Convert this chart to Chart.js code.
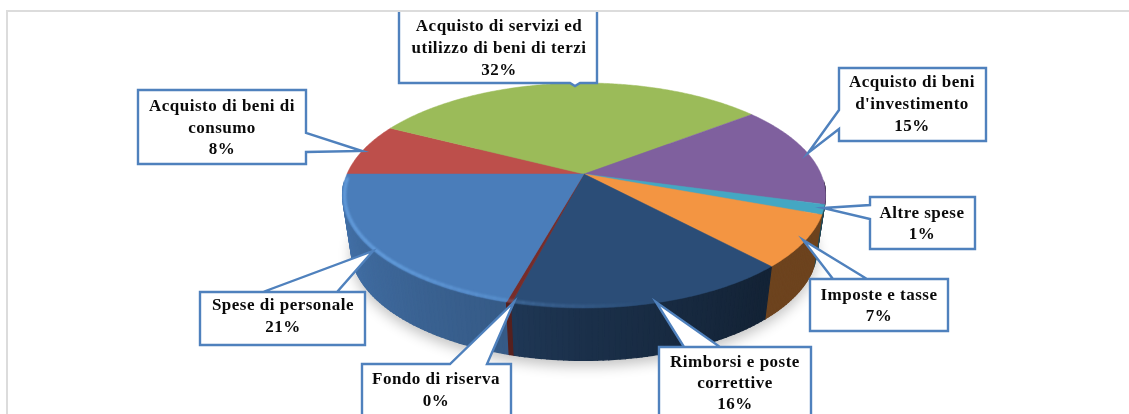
<!DOCTYPE html>
<html>
<head>
<meta charset="utf-8">
<script src="https://cdn.jsdelivr.net/npm/chart.js@4/dist/chart.umd.min.js"></script>
<style>
html, body { margin: 0; padding: 0; background: #fff; overflow: hidden; }
canvas { display: block; }
</style>
</head>
<body>
<canvas id="spesePie" width="1129" height="414"></canvas>
<script>
// categories, clockwise from the left of the pie
var categories = [
    ['Acquisto di beni di', 'consumo'],
    ['Acquisto di servizi ed', 'utilizzo di beni di terzi'],
    ['Acquisto di beni', "d'investimento"],
    ['Altre spese'],
    ['Imposte e tasse'],
    ['Rimborsi e poste', 'correttive'],
    ['Fondo di riserva'],
    ['Spese di personale']
];
var shares = [7.6, 31.9, 14.8, 1.4, 7.4, 15.9, 0.3, 20.7];
var sliceColors = ['#bd4f4b', '#9bbb59', '#7f609e', '#44a7c3', '#f39542', '#2b4d77', '#772c2a', '#4a7dba'];

// box = x, y, w, h of the callout, tail = where it leaves the box and where it points
var callouts = [
    { box: [138, 90, 168, 74], tail: [[306, 133], [362, 151], [306, 152]], textX: 222, textY: [107, 129, 150] },
    { box: [399, 4, 198, 79], tail: [[580, 83], [575, 86], [570, 83]], textX: 499, textY: [27, 49, 71] },
    { box: [839, 68, 147, 73], tail: [[839, 110], [808, 153], [839, 129]], textX: 912, textY: [83, 105, 127] },
    { box: [870, 197, 105, 52], tail: [[870, 205], [823, 208], [870, 219]], textX: 922, textY: [214, 235] },
    { box: [810, 279, 138, 52], tail: [[867, 279], [803, 240], [833, 279]], textX: 879, textY: [296, 317] },
    { box: [659, 347, 152, 90], tail: [[720, 347], [656, 302], [684, 347]], textX: 735, textY: [363, 384, 405] },
    { box: [362, 364, 149, 70], tail: [[450, 364], [514, 302], [487, 364]], textX: 436, textY: [380, 402] },
    { box: [200, 292, 165, 53], tail: [[337, 292], [373, 251], [263, 292]], textX: 283, textY: [306, 328] }
];

// perspective of the disc: same tilt for the top face and the base
var tilt = -0.191;
var topFace = { cx: 584, y0: 174, rx: 237, ry: 108.4 };
var baseFace = { cx: 584, y0: 227, rx: 228.7, ry: 107.9 };

function project(face, angle) {
    var u = Math.cos(angle), v = Math.sin(angle);
    var w = 1 + tilt * v;
    return { x: face.cx + face.rx * u / w, y: face.y0 + face.ry * v / w };
}

function shaded(color, k) {
    var n = parseInt(color.slice(1), 16);
    var r = Math.round((n >> 16) * k), g = Math.round(((n >> 8) & 255) * k), b = Math.round((n & 255) * k);
    return 'rgb(' + r + ',' + g + ',' + b + ')';
}

// side wall gets darker going from the left round to the right
function sideShade(deg) {
    var stops = [[0, 0.45], [50, 0.45], [90, 0.62], [105, 0.72], [180, 0.95]];
    if (deg < 0) deg = deg < -90 ? 180 : 0;
    for (var i = 1; i < stops.length; i++) {
        if (deg <= stops[i][0]) {
            var t = (deg - stops[i - 1][0]) / (stops[i][0] - stops[i - 1][0]);
            return stops[i - 1][1] + t * (stops[i][1] - stops[i - 1][1]);
        }
    }
    return 0.95;
}

function tracePoints(ctx, face, from, to) {
    var steps = Math.max(2, Math.ceil((to - from) / 0.01));
    for (var i = 0; i <= steps; i++) {
        var p = project(face, from + (to - from) * i / steps);
        ctx.lineTo(p.x, p.y);
    }
}

function drawShadow(ctx) {
    ctx.save();
    ctx.shadowColor = 'rgba(0,0,0,0.24)';
    ctx.shadowBlur = 13;
    ctx.shadowOffsetY = 6;
    ctx.fillStyle = '#888';
    ctx.beginPath();
    tracePoints(ctx, baseFace, -Math.PI, Math.PI);
    ctx.closePath();
    ctx.fill();
    ctx.restore();
}

function drawSide(ctx, arcs) {
    var quads = [];
    arcs.forEach(function(arc) {
        var a = arc.startAngle;
        while (a < arc.endAngle) {
            var b = Math.min(a + 0.02, arc.endAngle);
            // the back of the wall sits behind the top face
            if (Math.sin(a) > 0.1 || Math.sin(b) > 0.1) {
                quads.push({ a: a, b: b, color: arc.options.backgroundColor });
            }
            a = b;
        }
    });
    quads.sort(function(p, q) { return Math.sin(p.a) - Math.sin(q.a); });
    quads.forEach(function(q) {
        var mid = (q.a + q.b) / 2;
        var fill = shaded(q.color, sideShade(mid * 180 / Math.PI));
        var p1 = project(topFace, q.a), p2 = project(topFace, q.b);
        var p3 = project(baseFace, q.b), p4 = project(baseFace, q.a);
        ctx.fillStyle = fill;
        ctx.strokeStyle = fill;
        ctx.lineWidth = 1.2;
        ctx.beginPath();
        ctx.moveTo(p1.x, p1.y);
        ctx.lineTo(p2.x, p2.y);
        ctx.lineTo(p3.x, p3.y);
        ctx.lineTo(p4.x, p4.y);
        ctx.closePath();
        ctx.fill();
        ctx.stroke();
    });
}

function drawTop(ctx, arcs) {
    arcs.forEach(function(arc) {
        var color = arc.options.backgroundColor;
        ctx.fillStyle = color;
        ctx.strokeStyle = color;
        ctx.lineWidth = 0.5;
        ctx.beginPath();
        ctx.moveTo(topFace.cx, topFace.y0);
        tracePoints(ctx, topFace, arc.startAngle, arc.endAngle);
        ctx.closePath();
        ctx.fill();
        ctx.stroke();
    });
}

// soft bright edge along the front of the top face
function drawBevel(ctx) {
    ctx.save();
    ctx.filter = 'blur(1.2px)';
    ctx.lineWidth = 3;
    ctx.lineCap = 'butt';
    var inner = { cx: topFace.cx, y0: topFace.y0, rx: topFace.rx - 2, ry: topFace.ry - 1.5 };
    for (var deg = 76; deg < 178; deg += 2) {
        var alpha = Math.min(1, (deg - 76) / 60) * 0.5;
        var from = deg * Math.PI / 180, to = (deg + 2.2) * Math.PI / 180;
        ctx.strokeStyle = 'rgba(125,190,255,' + alpha + ')';
        ctx.beginPath();
        tracePoints(ctx, inner, from, to);
        ctx.stroke();
    }
    ctx.restore();
}

function drawCallout(ctx, callout, lines, percent) {
    var b = callout.box, t = callout.tail;
    var x = b[0], y = b[1], r = b[0] + b[2], e = b[1] + b[3];
    var side = t[0][0] === x ? 'left' : t[0][0] === r ? 'right' : t[0][1] === y ? 'top' : 'bottom';
    ctx.beginPath();
    ctx.moveTo(x, y);
    if (side === 'top') t.forEach(function(p) { ctx.lineTo(p[0], p[1]); });
    ctx.lineTo(r, y);
    if (side === 'right') t.forEach(function(p) { ctx.lineTo(p[0], p[1]); });
    ctx.lineTo(r, e);
    if (side === 'bottom') t.forEach(function(p) { ctx.lineTo(p[0], p[1]); });
    ctx.lineTo(x, e);
    if (side === 'left') t.slice().reverse().forEach(function(p) { ctx.lineTo(p[0], p[1]); });
    ctx.closePath();
    ctx.fillStyle = '#fff';
    ctx.fill();
    ctx.strokeStyle = '#4f81bd';
    ctx.lineWidth = 2.4;
    ctx.stroke();

    ctx.fillStyle = '#0a0a0a';
    ctx.font = 'bold 17px "Liberation Serif", serif';
    ctx.letterSpacing = '0.5px';
    ctx.textAlign = 'center';
    ctx.textBaseline = 'middle';
    lines.concat(percent).forEach(function(text, i) {
        ctx.fillText(text, callout.textX, callout.textY[i]);
    });
}

var pie3d = {
    id: 'pie3d',
    beforeDatasetsDraw: function(chart) {
        var ctx = chart.ctx;
        var arcs = chart.getDatasetMeta(0).data;
        ctx.save();
        drawShadow(ctx);
        drawSide(ctx, arcs);
        drawTop(ctx, arcs);
        drawBevel(ctx);
        ctx.restore();
        return false;
    },
    afterDraw: function(chart) {
        var ctx = chart.ctx;
        ctx.save();
        // the source image is cropped: the top callout runs into the frame
        ctx.beginPath();
        ctx.rect(0, 11, 1129, 403);
        ctx.clip();
        callouts.forEach(function(c, i) {
            drawCallout(ctx, c, categories[i], Math.round(shares[i]) + '%');
        });
        ctx.restore();

        // chart frame, only left and top are in the picture
        ctx.save();
        ctx.strokeStyle = '#dcdcdc';
        ctx.lineWidth = 2;
        ctx.beginPath();
        ctx.moveTo(7, 420);
        ctx.lineTo(7, 11);
        ctx.lineTo(1129, 11);
        ctx.stroke();
        ctx.restore();
    }
};

new Chart(document.getElementById('spesePie'), {
    type: 'pie',
    data: {
        labels: categories,
        datasets: [{ data: shares, backgroundColor: sliceColors, borderWidth: 0 }]
    },
    options: {
        responsive: false,
        animation: false,
        rotation: -90,
        plugins: { legend: { display: false }, tooltip: { enabled: false } }
    },
    plugins: [pie3d]
});
</script>
</body>
</html>
